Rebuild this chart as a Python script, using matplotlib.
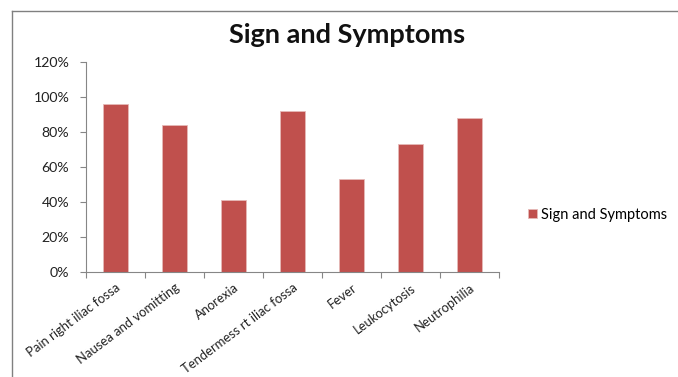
import matplotlib
matplotlib.use("Agg")
import matplotlib.pyplot as plt
from matplotlib.lines import Line2D
from matplotlib.ticker import FuncFormatter, FixedLocator
import numpy as np

categories = ["Pain right iliac fossa", "Nausea and vomitting", "Anorexia",
              "Tendermess rt iliac fossa", "Fever", "Leukocytosis", "Neutrophilia"]
values = [96, 84, 41, 92, 53, 73, 88]
series_name = "Sign and Symptoms"
title = "Sign and Symptoms"
yticks = [0, 20, 40, 60, 80, 100, 120]

W, H = 678, 377
fig = plt.figure(figsize=(W/100, H/100), dpi=100)
fig.patch.set_facecolor("white")
font = ["Lato", "DejaVu Sans"]

ax = fig.add_axes([86/W, 1-272/H, (499-86)/W, (272-62)/H])
x = np.arange(len(categories))
bars = ax.bar(x, values, width=0.41, color="#C0504D", edgecolor="#E6B9B8",
              linewidth=0.6, label=series_name, zorder=2)
ax.set_xlim(-0.5, len(categories)-0.5)
ax.set_ylim(0, 120)
ax.set_yticks(yticks)
ax.yaxis.set_major_formatter(FuncFormatter(lambda v, p: f"{int(v)}%"))
ax.set_xticks(x)
ax.set_xticklabels(categories, rotation=37, ha="right", va="top",
                   rotation_mode="anchor", fontsize=9.4, family=font, color="#222222")
ax.xaxis.set_minor_locator(FixedLocator(np.arange(-0.5, len(categories), 1)))
ax.tick_params(axis="x", which="major", length=0, pad=7)
ax.tick_params(axis="x", which="minor", length=4, color="#868686", width=0.8)
ax.tick_params(axis="y", length=4, color="#868686", width=0.8, pad=8)
for lab in ax.get_yticklabels():
    lab.set_fontsize(10.2)
    lab.set_family(font)
    lab.set_color("#222222")
for s in ["top", "right"]:
    ax.spines[s].set_visible(False)
for s in ["left", "bottom"]:
    ax.spines[s].set_color("#868686")
    ax.spines[s].set_linewidth(0.8)

fig.text(347/W, 1 - 35/H, title, ha="center", va="center",
         fontsize=19.5, fontweight="bold", family=font, color="#111111")

# chart frame
fig.add_artist(Line2D([12/W, 12/W], [0, 1-11/H], color="#808080", lw=1.0))
fig.add_artist(Line2D([12/W, 1], [1-11/H, 1-11/H], color="#808080", lw=1.0))

fig.legend(handles=[bars], labels=[series_name], loc="center left",
           bbox_to_anchor=(515/W, 1-215/H), frameon=False,
           prop={"family": font, "size": 10.5}, handlelength=0.6, handleheight=0.6,
           handletextpad=0.3)

fig.savefig("out.png", dpi=100)
